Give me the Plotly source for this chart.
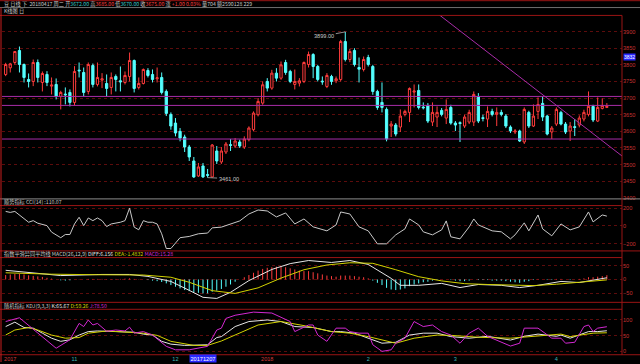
import plotly.graph_objects as go

W, H = 640, 364

# ---------------- data ----------------
opens = [3771,3791,3807,3843,3801,3756,3750,3807,3747,3771,3736,3741,3705,3712,3717,3687,3784,3777,3720,3798,
         3741,3754,3744,3732,3765,3752,3747,3765,3813,3732,3744,3783,3771,3758,3762,3720,3651,3625,3600,3583,
         3553,3511,3466,3496,3470,3463,3541,3508,3538,3560,3556,3568,3553,3575,3605,3650,3685,3750,3730,3775,
         3760,3807,3780,3741,3745,3750,3801,3831,3795,3751,3735,3765,3752,3756,3870,3816,3843,3792,3786,3822,
         3795,3720,3687,3666,3616,3619,3613,3651,3657,3718,3723,3673,3678,3628,3643,3663,3640,3672,3625,3626,
         3616,3628,3628,3705,3641,3637,3660,3651,3657,3646,3613,3598,3601,3568,3657,3616,3660,3684,3646,3598,
         3622,3657,3622,3601,3614,3619,3637,3651,3675,3631,3669,3672]
highs = [3806,3806,3841,3855,3804,3774,3816,3816,3780,3781,3762,3759,3722,3732,3726,3796,3807,3792,3807,3804,
         3807,3775,3771,3777,3771,3795,3780,3837,3816,3762,3789,3790,3786,3792,3777,3726,3657,3640,3610,3590,
         3559,3523,3505,3505,3487,3562,3556,3553,3568,3577,3580,3575,3585,3615,3660,3700,3750,3760,3785,3790,
         3810,3815,3785,3786,3760,3810,3840,3835,3800,3765,3775,3770,3765,3875,3899,3848,3850,3822,3825,3830,
         3800,3725,3747,3672,3631,3625,3666,3665,3732,3741,3741,3687,3685,3687,3675,3670,3696,3680,3631,3630,
         3650,3665,3720,3715,3650,3675,3668,3672,3665,3652,3618,3607,3605,3672,3662,3681,3702,3705,3650,3616,
         3672,3662,3628,3628,3637,3648,3665,3720,3680,3702,3699,3685]
lows = [3766,3777,3801,3777,3747,3732,3736,3747,3720,3736,3711,3696,3666,3681,3675,3678,3762,3705,3711,3732,
        3735,3730,3705,3711,3720,3720,3741,3750,3717,3726,3741,3762,3747,3747,3711,3646,3605,3585,3570,3538,
        3511,3460,3463,3460,3461,3462,3502,3502,3532,3541,3550,3550,3547,3570,3600,3645,3680,3720,3725,3750,
        3755,3770,3745,3726,3735,3745,3792,3760,3750,3740,3730,3740,3745,3750,3810,3808,3795,3747,3780,3795,
        3710,3665,3657,3570,3583,3585,3598,3645,3628,3672,3666,3666,3625,3616,3613,3645,3622,3620,3601,3568,
        3610,3622,3616,3625,3630,3613,3645,3616,3645,3610,3595,3592,3568,3562,3610,3613,3637,3631,3588,3577,
        3616,3618,3592,3571,3586,3612,3630,3645,3628,3628,3666,3670]
closes = [3801,3803,3840,3801,3762,3750,3807,3762,3774,3747,3739,3705,3717,3710,3687,3780,3782,3717,3801,3741,
          3762,3758,3729,3762,3756,3749,3768,3813,3729,3744,3786,3768,3756,3761,3717,3654,3616,3595,3580,3553,
          3523,3463,3493,3463,3468,3559,3511,3541,3562,3558,3571,3556,3577,3610,3655,3690,3740,3730,3775,3760,
          3800,3777,3750,3750,3752,3807,3831,3795,3756,3749,3768,3750,3758,3870,3816,3840,3801,3787,3816,3801,
          3720,3672,3672,3577,3622,3592,3646,3660,3729,3721,3672,3671,3631,3657,3657,3651,3666,3625,3619,3624,
          3643,3657,3711,3631,3639,3660,3651,3657,3651,3616,3601,3601,3571,3666,3616,3646,3681,3643,3592,3610,
          3666,3622,3598,3616,3612,3640,3657,3675,3634,3672,3678,3675]
n = len(closes)
idx = list(range(n))

cci_i = [0,1,2,4,5,6,7,9,10,12,13,14,15,16,17,18,19,20,21,22,23,25,26,27,28,29,30,31,32,33,34,35,36,38,40,
         42,44,45,47,51,53,55,57,59,61,63,65,67,70,72,73,75,77,79,81,83,85,87,88,90,91,93,95,96,97,99,101,
         102,103,106,108,110,111,113,114,116,117,119,121,123,125,127,128,130,131]
cci_v = [163,152,163,78,41,59,30,3,-70,-133,-97,-97,22,97,3,89,59,89,59,-8,22,41,59,200,-14,-44,59,41,41,22,
         -89,-255,-255,-133,-119,-89,-81,-22,-14,56,134,179,168,101,146,22,78,-11,-56,11,157,134,-11,-56,-202,
         -202,-101,-34,78,11,-67,-101,-45,56,-123,-146,-11,78,11,-56,-67,-146,-101,34,-56,123,-34,-112,22,-45,
         -11,157,45,123,110]

diff_i = [0,5,12,21,27,31,36,40,43,46,49,53,58,62,66,71,75,79,84,86,90,95,99,103,108,112,116,121,125,131]
diff_v = [33,24,14,18,18,11,-7,-39,-64,-68,-46,-4,36,57,68,61,68,54,4,-21,-21,-14,-29,-18,-21,-29,-21,-7,-11,6.156]
dea_i = [0,10,20,30,36,40,45,50,55,60,65,70,75,80,85,90,95,100,105,110,115,120,125,131]
dea_v = [24,19,17,16,8,-10,-40,-50,-30,5,35,52,60,58,35,10,-5,-15,-18,-21,-22,-17,-10,-1.4832]
macd_hist = [16,18,20,20,18,15,13,11,9,6, 3,0,-3,-4,-3,0,1,0,2,2, 2,2,1,1,2,2,3,4,2,1,
             0,-2,-4,-6,-9,-14,-20,-26,-32,-38, -42,-46,-48,-50,-50,-44,-40,-34,-26,-18,
             -8,0,8,16,24,32,38,42,44,46, 46,44,40,36,32,30,30,26,22,18,
             14,12,10,14,14,14,12,10,8,4, -4,-12,-20,-30,-36,-38,-36,-32,-24,-18,
             -14,-10,-8,-4,-2,0,0,-2,-4,-6, -6,-4,0,-2,-2,-2,-4,-4,-4,-6,
             -8,-10,-12,-8,-6,-2,2,0,-2,-2, 2,2,0,-2,0,2,4,8,8,10,12,15.28]

k_i = [0,2,4,6,8,10,12,14,16,18,20,23,26,28,30,32,34,36,39,42,44,46,47,50,53,57,60,63,67,71,73,76,79,82,85,
       88,91,94,97,101,105,110,113,116,120,121,123,124,127,129,131]
k_v = [79,93,76,74,58,42,32,37,52,63,65,63,63,61,55,52,32,23,19,19,21,44,47,79,95,100,95,79,76,63,63,58,42,
       26,29,52,58,58,47,42,48,36,48,55,48,52,42,47,63,63,65.67]
d_i = [0,2,5,7,10,13,16,18,22,26,30,33,36,41,44,47,50,55,60,65,71,75,79,85,89,94,97,103,110,116,121,123,125,128,131]
d_v = [52,68,76,68,52,42,44,58,65,61,58,51,32,19,19,33,52,84,95,82,63,58,47,26,42,52,51,45,42,48,55,47,52,58,59.26]
j_i = [0,3,11,14,16,17,18,19,20,22,24,26,27,28,30,31,32,35,37,40,42,44,46,47,48,50,54,58,62,63,66,67,68,70,72,
       74,75,77,79,80,82,84,85,87,89,91,93,95,97,99,101,103,105,107,110,112,113,116,119,121,122,124,125,126,127,
       128,129,131]
j_v = [95,107,10,37,89,79,100,84,89,64,68,65,77,58,63,58,52,16,5,5,10,16,68,74,105,115,125,122,95,63,84,84,
       52,32,74,74,63,58,58,21,0,5,26,42,95,79,84,63,52,26,58,74,48,36,17,26,74,74,42,42,26,29,52,79,84,63,74,78.5]

price_ticks = [3400, 3450, 3500, 3550, 3600, 3650, 3700, 3750, 3800, 3850, 3900]
cci_ticks = [-200, 0, 200]
macd_ticks = [-50, 0, 50]
kdj_ticks = [0, 50, 100]

month_idx = [1, 15, 37, 57, 79, 98, 120]
month_text = ["2017", "11", "12", "2018", "2", "3", "4"]
month_is_year = [True, False, False, True, False, False, False]

hline_prices = [3705, 3678, 3577]
trend_x = [94.5, 134.3]
trend_y = [3950, 3526]

peak_i, peak_p, peak_label = 74, 3899, "3899.00"
low_i, low_p, low_label = 44, 3461, "3461.00"
cursor_i, cursor_label = 43, "20171207"
cursor_price = 3832

# ---------------- styles ----------------
RED = "#ff3c3c"
CYAN = "#54ffff"
FRAME = "#9a1414"
GRID = "#5c0c0c"
TXT = "#c8c8c8"
YEL = "#d2d200"
MAG = "#d228d2"
FONT = "Noto Sans CJK SC"
NUMFONT = "Liberation Sans"
FS = 5.2

def dom(top_px, bot_px):
    return [1 - bot_px / H, 1 - top_px / H]

def py(p):
    return 1 - p / H

def px(p):
    return p / W

fig = go.Figure()

fig.add_trace(go.Candlestick(
    x=idx, open=opens, high=highs, low=lows, close=closes,
    increasing=dict(line=dict(color=RED, width=1), fillcolor="#000000"),
    decreasing=dict(line=dict(color=CYAN, width=1), fillcolor=CYAN),
    whiskerwidth=0, xaxis="x", yaxis="y", hoverinfo="skip"))

fig.add_trace(go.Scatter(x=cci_i, y=cci_v, mode="lines", line=dict(color=TXT, width=1),
                         xaxis="x", yaxis="y2", hoverinfo="skip"))

for positive, col in ((True, RED), (False, CYAN)):
    xs, ys = [], []
    for i, v in zip(idx, macd_hist):
        if (v >= 0) == positive:
            xs += [i, i, None]
            ys += [0, v, None]
    fig.add_trace(go.Scatter(x=xs, y=ys, mode="lines", line=dict(color=col, width=1),
                             xaxis="x", yaxis="y3", hoverinfo="skip", connectgaps=False))
fig.add_trace(go.Scatter(x=diff_i, y=diff_v, mode="lines", line=dict(color="#e6e6e6", width=1),
                         xaxis="x", yaxis="y3", hoverinfo="skip"))
fig.add_trace(go.Scatter(x=dea_i, y=dea_v, mode="lines", line=dict(color=YEL, width=1),
                         xaxis="x", yaxis="y3", hoverinfo="skip"))

fig.add_trace(go.Scatter(x=k_i, y=k_v, mode="lines", line=dict(color="#e6e6e6", width=1),
                         xaxis="x", yaxis="y4", hoverinfo="skip"))
fig.add_trace(go.Scatter(x=d_i, y=d_v, mode="lines", line=dict(color=YEL, width=1),
                         xaxis="x", yaxis="y4", hoverinfo="skip"))
fig.add_trace(go.Scatter(x=j_i, y=j_v, mode="lines", line=dict(color=MAG, width=1),
                         xaxis="x", yaxis="y4", hoverinfo="skip"))

yax_common = dict(side="right", anchor="x", showgrid=True, gridcolor=GRID, griddash="dot", gridwidth=1,
                  zeroline=False, showline=False, ticks="", tickfont=dict(family=NUMFONT, size=5.6, color="#c83232"),
                  fixedrange=True)

tick_text = []
for t, yr in zip(month_text, month_is_year):
    col = "#d23c3c" if yr else "#3cb4b4"
    tick_text.append(f'<span style="color:{col}">{t}</span>')

fig.update_layout(
    width=W, height=H, margin=dict(l=0, r=0, t=0, b=0),
    paper_bgcolor="#000000", plot_bgcolor="#000000", showlegend=False,
    font=dict(family=FONT, size=FS, color=TXT),
    xaxis=dict(domain=[px(2), px(622)], range=[-0.8, 134.3], anchor="y4", showgrid=False, zeroline=False,
               tickvals=month_idx, ticktext=tick_text, ticks="", showline=False,
               tickfont=dict(family=NUMFONT, size=5.6), rangeslider=dict(visible=False), fixedrange=True),
    yaxis=dict(domain=dom(15, 200), range=[3397, 3950], tickvals=price_ticks, **yax_common),
    yaxis2=dict(domain=dom(206.7, 252.3), range=[-282, 229], tickvals=cci_ticks, **yax_common),
    yaxis3=dict(domain=dom(259, 304), range=[-82, 78.6], tickvals=macd_ticks, **yax_common),
    yaxis4=dict(domain=dom(311, 356.7), range=[-10.7, 134], tickvals=kdj_ticks, **yax_common),
)

shapes = []
for p in hline_prices:
    shapes.append(dict(type="line", xref="paper", yref="y", x0=px(2), x1=px(622), y0=p, y1=p,
                       line=dict(color="#a82ca8", width=1)))
shapes.append(dict(type="line", xref="x", yref="y", x0=trend_x[0], y0=trend_y[0], x1=trend_x[1], y1=trend_y[1],
                   line=dict(color="#a82ca8", width=1)))

def hl(y, x0=0, x1=622, color=FRAME, w=1):
    shapes.append(dict(type="line", xref="paper", yref="paper", x0=px(x0), x1=px(x1), y0=py(y), y1=py(y),
                       line=dict(color=color, width=w)))
def vl(x, y0, y1, color=FRAME, w=1):
    shapes.append(dict(type="line", xref="paper", yref="paper", x0=px(x), x1=px(x), y0=py(y0), y1=py(y1),
                       line=dict(color=color, width=w)))
hl(0.7, 0, 640)
hl(7.6, 0, 640, color="#707070")
hl(15.5)
hl(200, 0, 640, color="#8c8c8c")
hl(206.7)
hl(252.3, 0, 640)
hl(259)
hl(304, 0, 640)
hl(311)
hl(356.7, 0, 640)
vl(622, 15.5, 356.7)
vl(1, 7.6, 364, color="#c81e1e")
fig.update_layout(shapes=shapes)

ann = []
def txt(x, y, s, color=TXT, size=FS, anchor="left"):
    ann.append(dict(x=px(x), y=py(y), xref="paper", yref="paper", text=s, showarrow=False,
                    xanchor=anchor, yanchor="middle", font=dict(family=FONT, size=size, color=color)))

hdr = ('豆 日线 下  20180417 周二 开<span style="color:#3cc8c8">3672.00</span> 高<span style="color:#ff4040">3685.00</span>'
       ' 低<span style="color:#3cc8c8">3670.00</span> 收<span style="color:#ff4040">3675.00</span>'
       ' 涨 <span style="color:#ff4040">+1.00 0.03%</span> 量704 额2590128 229')
txt(2, 4.2, hdr)
txt(2, 11.5, "K线图 日")
txt(2, 203.3, "顺势指标 CCI(14) :110.07")
txt(2, 255.7, '指数平滑异同平均线 MACD(26,12,9) <span style="color:#e6e6e6">DIFF:6.156</span> '
              f'<span style="color:{YEL}">DEA:-1.4832</span> <span style="color:{MAG}">MACD:15.28</span>')
txt(2, 307.6, f'随机指标 KDJ(9,3,3) <span style="color:#e6e6e6">K:65.67</span> '
              f'<span style="color:{YEL}">D:59.26</span> <span style="color:{MAG}">J:78.50</span>')

ann.append(dict(x=peak_i, y=peak_p, xref="x", yref="y", text=peak_label, showarrow=True, arrowhead=0,
                arrowwidth=0.8, arrowcolor="#b4b4b4", ax=-21, ay=4, font=dict(family=NUMFONT, size=5.6, color=TXT)))
ann.append(dict(x=low_i, y=low_p, xref="x", yref="y", text=low_label, showarrow=True, arrowhead=0,
                arrowwidth=0.8, arrowcolor="#b4b4b4", ax=21, ay=1, font=dict(family=NUMFONT, size=5.6, color=TXT)))
ann.append(dict(x=cursor_i, y=py(360.5), xref="x", yref="paper", text=cursor_label, showarrow=False,
                bgcolor="#2828ff", font=dict(family=NUMFONT, size=5.6, color="#ffffff"), borderpad=0.5,
                yanchor="middle"))
ann.append(dict(x=px(623), y=cursor_price, xref="paper", yref="y", text=str(cursor_price), showarrow=False,
                bgcolor="#2828ff", xanchor="left", yanchor="middle", yshift=-2.4,
                font=dict(family=NUMFONT, size=5.0, color="#ffffff"), borderpad=0))
fig.update_layout(annotations=ann)

fig.write_html("out.html")
